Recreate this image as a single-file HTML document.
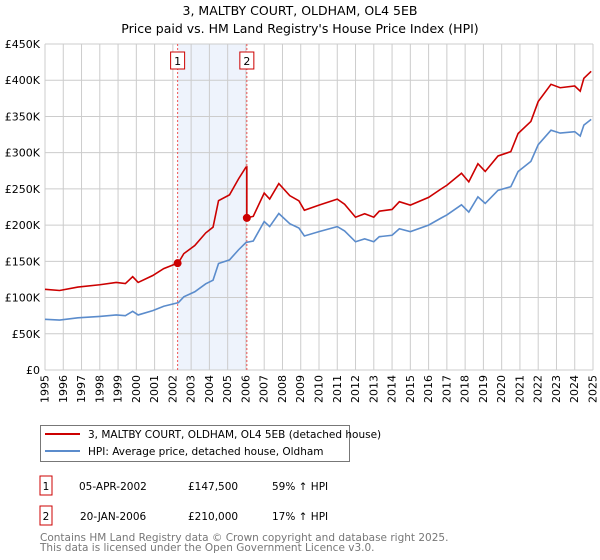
<!DOCTYPE html>
<html><head><meta charset="utf-8"><style>
body{margin:0;background:#fff;font-family:"Liberation Sans","DejaVu Sans",sans-serif;}
#wrap{position:relative;width:600px;height:560px;}
svg text{font-family:"DejaVu Sans","Liberation Sans",sans-serif;}
.xl{position:absolute;width:13px;line-height:13px;font-size:11px;font-family:"DejaVu Sans","Liberation Sans",sans-serif;writing-mode:vertical-rl;writing-mode:sideways-lr;white-space:nowrap;}
</style></head><body>
<div id="wrap">
<svg width="600" height="560" xmlns="http://www.w3.org/2000/svg" id="chart" style="position:absolute;left:0;top:0">
<text x="300" y="15" text-anchor="middle" font-size="12.5">3, MALTBY COURT, OLDHAM, OL4 5EB</text>
<text x="300" y="33" text-anchor="middle" font-size="12.5">Price paid vs. HM Land Registry's House Price Index (HPI)</text>
<g id="plot"></g>
<g>
<rect x="40.5" y="425.5" width="309" height="36" fill="#fff" stroke="#777"/>
<line x1="45" y1="434" x2="80" y2="434" stroke="#cc0000" stroke-width="2"/>
<text x="88" y="438" font-size="10.5">3, MALTBY COURT, OLDHAM, OL4 5EB (detached house)</text>
<line x1="45" y1="451" x2="80" y2="451" stroke="#5b8ccc" stroke-width="2"/>
<text x="88" y="455" font-size="10.5">HPI: Average price, detached house, Oldham</text>
</g>
<g font-size="10.5">
<rect x="40" y="476" width="12" height="19" fill="#fff" stroke="#cc0000"/>
<text x="46" y="490" text-anchor="middle">1</text>
<text x="79" y="490">05-APR-2002</text><text x="188" y="490">£147,500</text><text x="272" y="490">59% ↑ HPI</text>
<rect x="40" y="506" width="12" height="19" fill="#fff" stroke="#cc0000"/>
<text x="46" y="520" text-anchor="middle">2</text>
<text x="80" y="520">20-JAN-2006</text><text x="188" y="520">£210,000</text><text x="272" y="520">17% ↑ HPI</text>
</g>
<text x="40" y="541" font-size="10.5" fill="#777">Contains HM Land Registry data © Crown copyright and database right 2025.</text>
<text x="40" y="551" font-size="10.5" fill="#777">This data is licensed under the Open Government Licence v3.0.</text>
</svg>
</div>
<script>
const hpiYears=[1995,1995.8,1996.8,1998,1998.9,1999.4,1999.8,2000.1,2000.9,2001.5,2002.3,2002.6,2003.2,2003.8,2004.2,2004.5,2005.1,2005.6,2006,2006.4,2007,2007.3,2007.8,2008.4,2008.9,2009.2,2010,2011,2011.4,2012,2012.5,2013,2013.3,2014,2014.4,2015,2016,2016.7,2017,2017.8,2018.2,2018.7,2019.1,2019.8,2020.5,2020.9,2021.6,2022,2022.7,2023.2,2024,2024.3,2024.5,2024.9];
const hpiValues=[70,69,72,74,76,75,81,76,82,88,93,101,108,119,124,147,152,166,176,178,205,198,216,202,196,185,191,198,192,177,181,177,184,186,195,191,200,210,214,228,218,239,230,248,253,274,288,311,331,327,329,323,338,346];
const saleYears=[2002.26,2006.05];
const salePrices=[147500,210000];
const yTicks=[0,50,100,150,200,250,300,350,400,450];
const xTicks=[1995,1996,1997,1998,1999,2000,2001,2002,2003,2004,2005,2006,2007,2008,2009,2010,2011,2012,2013,2014,2015,2016,2017,2018,2019,2020,2021,2022,2023,2024,2025];
const X0=45,X1=593,Y0=370,Y1=44;
const xs=y=>X0+(y-1995)/30*(X1-X0);
const ys=v=>Y0-v/450*(Y0-Y1);
const NS="http://www.w3.org/2000/svg";
const g=document.getElementById('plot');
const wrap=document.getElementById('wrap');
function mk(t,a){const e=document.createElementNS(NS,t);for(const k in a)e.setAttribute(k,a[k]);g.appendChild(e);return e;}
function hpiAt(y){for(let i=0;i<hpiYears.length-1;i++){if(y<=hpiYears[i+1]){const f=(y-hpiYears[i])/(hpiYears[i+1]-hpiYears[i]);return hpiValues[i]+f*(hpiValues[i+1]-hpiValues[i]);}}return hpiValues[hpiValues.length-1];}
const shade=mk('rect',{x:xs(saleYears[0]),y:Y1,width:xs(saleYears[1])-xs(saleYears[0]),height:Y0-Y1,fill:'#eef3fc'});


xTicks.forEach(t=>{const l=mk('line',{x1:xs(t),x2:xs(t),y1:Y1,y2:Y0,stroke:'#ccc'});


const d=document.createElement('div');d.className='xl';
d.style.left=(xs(t)-6.5)+'px';d.style.top=(Y0+5)+'px';d.textContent=t;


wrap.appendChild(d);});
yTicks.forEach(t=>{const l=mk('line',{x1:X0,x2:X1,y1:ys(t),y2:ys(t),stroke:'#ccc'});


const tx=mk('text',{x:40,y:ys(t)+4,'font-size':11,'text-anchor':'end'});tx.textContent=t===0?'£0':'£'+t+'K';

});
saleYears.forEach((s,i)=>{const l=mk('line',{x1:xs(s),x2:xs(s),y1:Y1,y2:Y0,stroke:'#e55','stroke-dasharray':'2,2'});


const r=mk('rect',{x:xs(s)-7,y:52,width:14,height:17,fill:'#fff',stroke:'#cc0000'});


const tx=mk('text',{x:xs(s),y:65,'font-size':11,'text-anchor':'middle'});tx.textContent=i+1;

});
const bp=mk('polyline',{points:hpiYears.map((y,i)=>xs(y)+','+ys(hpiValues[i])).join(' '),fill:'none',stroke:'#5b8ccc','stroke-width':1.6});


function prop(y){let k=0;for(let i=0;i<saleYears.length;i++)if(y>=saleYears[i])k=i;return hpiAt(y)*(salePrices[k]/1000)/hpiAt(saleYears[k]);}
const pts=[];hpiYears.forEach(y=>{if(y<saleYears[1])pts.push([y,prop(y)]);});
saleYears.forEach((s,i)=>{pts.push([s-(i?0.001:0),i?prop(s-0.01):prop(s)]);pts.push([s,prop(s)]);});
hpiYears.forEach(y=>{if(y>=saleYears[1])pts.push([y,prop(y)]);});
pts.sort((a,b)=>a[0]-b[0]);
const rp=mk('polyline',{points:pts.map(p=>xs(p[0])+','+ys(p[1])).join(' '),fill:'none',stroke:'#cc0000','stroke-width':1.6});


saleYears.forEach((s,i)=>{const c=mk('circle',{cx:xs(s),cy:ys(salePrices[i]/1000),r:4,fill:'#cc0000'});

});
</script>
</body></html>
